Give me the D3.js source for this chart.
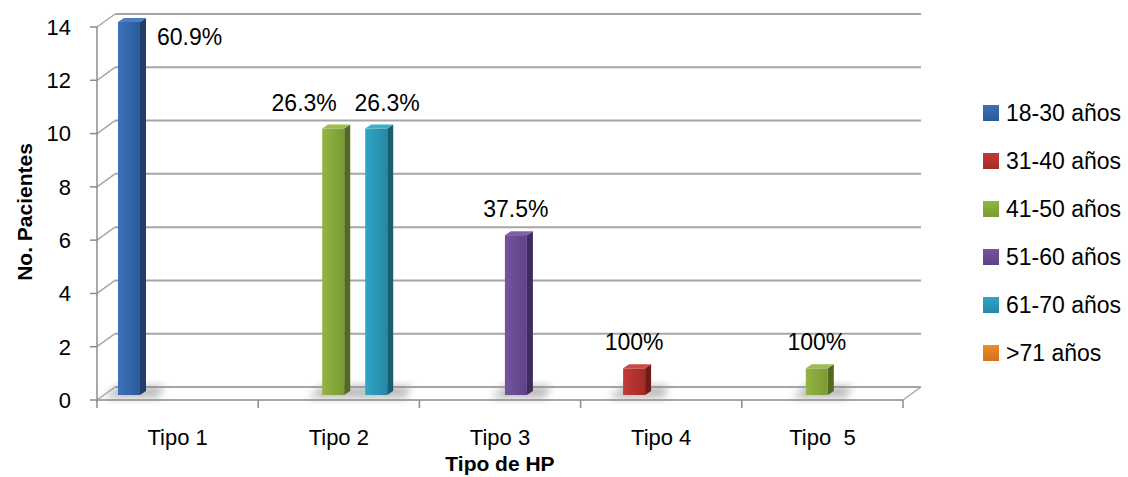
<!DOCTYPE html>
<html>
<head>
<meta charset="utf-8">
<script src="https://cdn.jsdelivr.net/npm/d3@7"></script>
<style>
  html, body { margin: 0; padding: 0; background: #ffffff; }
  svg { display: block; font-family: "Liberation Sans", Arial, sans-serif; }
</style>
</head>
<body>
<svg id="chart" width="1128" height="477"></svg>
<script>
// Patients by HP type, grouped by age band
const categories = ["Tipo 1", "Tipo 2", "Tipo 3", "Tipo 4", "Tipo  5"];
const seriesNames = ["18-30 años", "31-40 años", "41-50 años", "51-60 años", "61-70 años", ">71 años"];
const values1830 = [14, 0, 0, 0, 0];
const values3140 = [0, 0, 0, 1, 0];
const values4150 = [0, 10, 0, 0, 1];
const values5160 = [0, 0, 6, 0, 0];
const values6170 = [0, 10, 0, 0, 0];
const values71 = [0, 0, 0, 0, 0];
const labels1830 = ["60.9%", "", "", "", ""];
const labels3140 = ["", "", "", "100%", ""];
const labels4150 = ["", "26.3%", "", "", "100%"];
const labels5160 = ["", "", "37.5%", "", ""];
const labels6170 = ["", "26.3%", "", "", ""];
const labels71 = ["", "", "", "", ""];
const yTicks = [0, 2, 4, 6, 8, 10, 12, 14];

const seriesValues = [values1830, values3140, values4150, values5160, values6170, values71];
const seriesLabels = [labels1830, labels3140, labels4150, labels5160, labels6170, labels71];

// face colours: [light, mid, dark side, top]
const palette = [
  ["#3b72bb", "#2c5a98", "#1f3e69", "#4a7ec2"],
  ["#c23a36", "#a52a27", "#6e1b19", "#c94a45"],
  ["#93b543", "#7a9a33", "#53691f", "#9dbd52"],
  ["#7455a0", "#5e4286", "#3f2b5c", "#7e61a8"],
  ["#2fa5c6", "#2689a6", "#1a5d71", "#3cafcd"],
  ["#f08a2c", "#d4701a", "#8f4a10", "#f29a45"]
];

const svg = d3.select("#chart");
const defs = svg.append("defs");

// plot geometry (front plane + depth vector of the 3D box)
const left = 97, right = 903, floorY = 400;
const depthX = 18, depthY = -13;
const barBaseY = 395, barDX = 6, barDY = -4, barW = 22;

const y = d3.scaleLinear().domain([0, 14]).range([floorY, floorY - 373]);
const yBar = d3.scaleLinear().domain([0, 14]).range([barBaseY, barBaseY - 373]);
const x0 = d3.scaleBand().domain(categories).range([left, right]).padding(0);
const x1 = d3.scaleBand().domain(seriesNames).range([21, 150]).padding(0);

// gradients for bar faces and legend keys
palette.forEach((c, i) => {
  const gf = defs.append("linearGradient").attr("id", "front" + i)
    .attr("x1", 0).attr("y1", 0).attr("x2", 1).attr("y2", 0);
  gf.append("stop").attr("offset", "0%").attr("stop-color", c[0]);
  gf.append("stop").attr("offset", "100%").attr("stop-color", c[1]);
  const gl = defs.append("linearGradient").attr("id", "key" + i)
    .attr("x1", 0).attr("y1", 0).attr("x2", 0).attr("y2", 1);
  gl.append("stop").attr("offset", "0%").attr("stop-color", c[0]);
  gl.append("stop").attr("offset", "100%").attr("stop-color", c[1]);
});
const blur = defs.append("filter").attr("id", "soft")
  .attr("x", "-50%").attr("y", "-50%").attr("width", "200%").attr("height", "200%");
blur.append("feGaussianBlur").attr("stdDeviation", 4);

const gridColor = "#a6a6a6";
const grid = svg.append("g");

// back wall gridlines and side wall diagonals
yTicks.forEach(t => {
  grid.append("line")
    .attr("x1", left + depthX).attr("x2", right + depthX)
    .attr("y1", y(t) + depthY).attr("y2", y(t) + depthY)
    .attr("stroke", gridColor).attr("stroke-width", 2);
  grid.append("line")
    .attr("x1", left).attr("x2", left + depthX)
    .attr("y1", y(t)).attr("y2", y(t) + depthY)
    .attr("stroke", gridColor).attr("stroke-width", 1.5);
});

// floor front edge and right edge
grid.append("line").attr("x1", left).attr("x2", right)
  .attr("y1", floorY).attr("y2", floorY)
  .attr("stroke", gridColor).attr("stroke-width", 2);
grid.append("line").attr("x1", right).attr("x2", right + depthX)
  .attr("y1", floorY).attr("y2", floorY + depthY)
  .attr("stroke", gridColor).attr("stroke-width", 1.5);

// vertical axis line and tick marks
grid.append("line").attr("x1", left).attr("x2", left)
  .attr("y1", y(14)).attr("y2", floorY + 2)
  .attr("stroke", "#8c8c8c").attr("stroke-width", 1.5);
yTicks.forEach(t => {
  grid.append("line").attr("x1", left - 7).attr("x2", left)
    .attr("y1", y(t)).attr("y2", y(t))
    .attr("stroke", "#8c8c8c").attr("stroke-width", 1.5);
});
// category tick marks
const catEdges = categories.map(c => x0(c)).concat([right]);
catEdges.forEach(cx => {
  grid.append("line").attr("x1", cx).attr("x2", cx)
    .attr("y1", floorY).attr("y2", floorY + 8)
    .attr("stroke", "#8c8c8c").attr("stroke-width", 1.5);
});

// y tick labels
svg.append("g").selectAll("text").data(yTicks).join("text")
  .attr("x", 71).attr("y", d => y(d))
  .attr("dy", "0.36em").attr("text-anchor", "end")
  .attr("font-size", 22).attr("fill", "#000").text(d => d);

// x tick labels
svg.append("g").selectAll("text").data(categories).join("text")
  .attr("x", d => x0(d) + x0.bandwidth() / 2).attr("y", 445)
  .attr("text-anchor", "middle").attr("font-size", 22)
  .style("white-space", "pre").attr("fill", "#000").text(d => d);

// axis titles
svg.append("text").attr("x", 500).attr("y", 471)
  .attr("text-anchor", "middle").attr("font-size", 21).attr("font-weight", "bold")
  .text("Tipo de HP");
svg.append("text").attr("transform", "translate(32,212) rotate(-90)")
  .attr("text-anchor", "middle").attr("font-size", 21).attr("font-weight", "bold")
  .text("No. Pacientes");

// bars
const bars = [];
seriesValues.forEach((vals, si) => {
  vals.forEach((v, ci) => {
    if (v > 0) bars.push({ si, ci, v, label: seriesLabels[si][ci] });
  });
});
const shadowLayer = svg.append("g").attr("filter", "url(#soft)").attr("opacity", 0.6);
const barLayer = svg.append("g");
bars.forEach(b => {
  const bx = x0(categories[b.ci]) + x1(seriesNames[b.si]);
  const top = yBar(b.v);
  const c = palette[b.si];
  // soft floor shadow
  shadowLayer.append("path")
    .attr("d", `M${bx - 14},${barBaseY + 3} L${bx + barW + 18},${barBaseY + 3} L${bx + barW + 24},${barBaseY - 9} L${bx},${barBaseY - 9} Z`)
    .attr("fill", "#8a8a8a");
  // side face
  barLayer.append("path")
    .attr("d", `M${bx + barW},${top} L${bx + barW + barDX},${top + barDY} L${bx + barW + barDX},${barBaseY + barDY} L${bx + barW},${barBaseY} Z`)
    .attr("fill", c[2]);
  // top face
  barLayer.append("path")
    .attr("d", `M${bx},${top} L${bx + barDX},${top + barDY} L${bx + barW + barDX},${top + barDY} L${bx + barW},${top} Z`)
    .attr("fill", c[3]);
  // front face
  barLayer.append("rect")
    .attr("x", bx).attr("y", top).attr("width", barW).attr("height", barBaseY - top)
    .attr("fill", `url(#front${b.si})`);
  b.cx = bx + (barW + barDX) / 2;
  b.top = top;
  b.right = bx + barW + barDX;
});

// value labels: the tallest bar carries its label beside the top,
// the left one of the twin bars in Tipo 2 is shifted left to stay clear
const labelLayer = svg.append("g").attr("font-size", 23).attr("fill", "#000");
bars.filter(b => b.label).forEach(b => {
  const t = labelLayer.append("text").text(b.label);
  if (b.si === 0 && b.ci === 0) {
    t.attr("x", b.right + 11).attr("y", b.top + 23).attr("text-anchor", "start");
  } else if (b.si === 2 && b.ci === 1) {
    t.attr("x", b.cx - 32).attr("y", b.top - 18).attr("text-anchor", "middle");
  } else {
    t.attr("x", b.cx + (b.ci === 1 ? 8 : -3)).attr("y", b.top - 18).attr("text-anchor", "middle");
  }
});

// legend
const legend = svg.append("g");
seriesNames.forEach((name, i) => {
  const cy = 113 + i * 48;
  legend.append("rect").attr("x", 983).attr("y", cy - 8).attr("width", 16).attr("height", 16)
    .attr("fill", `url(#key${i})`);
  legend.append("text").attr("x", 1006).attr("y", cy).attr("dy", "0.36em")
    .attr("font-size", 23).attr("fill", "#000").text(name);
});
</script>
</body>
</html>
